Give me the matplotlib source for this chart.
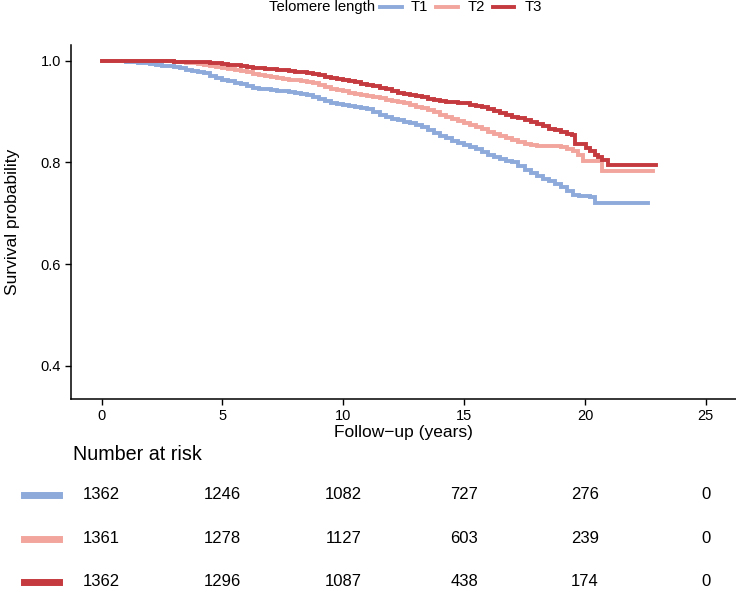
import matplotlib
matplotlib.use("Agg")
import matplotlib.pyplot as plt
from matplotlib.lines import Line2D

plt.rcParams['font.family'] = ['Liberation Sans', 'DejaVu Sans']

# Kaplan-Meier curves (time in years, survival)
t1_time = [0, 0.5, 0.75, 1.0, 1.25, 1.5, 1.75, 2.0, 2.25, 2.5, 2.75, 3.0, 3.25, 3.5,
           3.75, 4.0, 4.25, 4.5, 4.75, 5.0, 5.25, 5.5, 5.75, 6.0, 6.25, 6.5, 6.75, 7.0,
           7.25, 7.5, 7.75, 8.0, 8.25, 8.5, 8.75, 9.0, 9.25, 9.5, 9.75, 10.0, 10.25,
           10.5, 10.75, 11.0, 11.25, 11.5, 11.75, 12.0, 12.25, 12.5, 12.75, 13.0, 13.25,
           13.5, 13.75, 14.0, 14.25, 14.5, 14.75, 15.0, 15.25, 15.5, 15.75, 16.0, 16.25,
           16.5, 16.75, 17.0, 17.25, 17.5, 17.75, 18.0, 18.25, 18.5, 18.75, 19.0, 19.25,
           19.5, 19.75, 20.0, 20.2, 20.4, 22.6]
t1_surv = [1.0, 1.0, 0.999, 0.998, 0.997, 0.996, 0.995, 0.993, 0.992, 0.990, 0.989,
           0.987, 0.985, 0.982, 0.980, 0.978, 0.975, 0.971, 0.967, 0.963, 0.960, 0.957,
           0.954, 0.950, 0.947, 0.945, 0.944, 0.942, 0.941, 0.940, 0.939, 0.937, 0.935,
           0.933, 0.929, 0.925, 0.921, 0.917, 0.915, 0.913, 0.911, 0.909, 0.907, 0.905,
           0.900, 0.894, 0.890, 0.886, 0.883, 0.880, 0.877, 0.874, 0.869, 0.863, 0.858,
           0.853, 0.848, 0.843, 0.839, 0.835, 0.831, 0.827, 0.820, 0.814, 0.810, 0.806,
           0.803, 0.800, 0.793, 0.786, 0.780, 0.773, 0.768, 0.763, 0.758, 0.752, 0.744,
           0.736, 0.735, 0.734, 0.733, 0.720, 0.720]

t2_time = [0, 1.5, 2.0, 2.5, 3.0, 3.25, 3.5, 3.75, 4.0, 4.25, 4.5, 4.75, 5.0, 5.25,
           5.5, 5.75, 6.0, 6.25, 6.5, 6.75, 7.0, 7.25, 7.5, 7.75, 8.0, 8.25, 8.5, 8.75,
           9.0, 9.25, 9.5, 9.75, 10.0, 10.25, 10.5, 10.75, 11.0, 11.25, 11.5, 11.75,
           12.0, 12.25, 12.5, 12.75, 13.0, 13.25, 13.5, 13.75, 14.0, 14.25, 14.5, 14.75,
           15.0, 15.25, 15.5, 15.75, 16.0, 16.25, 16.5, 16.75, 17.0, 17.25, 17.5, 17.75,
           18.0, 18.5, 19.0, 19.25, 19.5, 19.7, 19.9, 20.7, 22.8]
t2_surv = [1.0, 1.0, 0.9995, 0.999, 0.998, 0.997, 0.996, 0.995, 0.994, 0.992, 0.990,
           0.988, 0.986, 0.984, 0.982, 0.980, 0.977, 0.974, 0.972, 0.970, 0.968, 0.966,
           0.965, 0.963, 0.962, 0.960, 0.958, 0.956, 0.953, 0.949, 0.945, 0.943, 0.940,
           0.937, 0.934, 0.932, 0.930, 0.928, 0.926, 0.923, 0.921, 0.919, 0.917, 0.914,
           0.910, 0.907, 0.903, 0.899, 0.894, 0.890, 0.886, 0.882, 0.878, 0.874, 0.870,
           0.865, 0.860, 0.856, 0.852, 0.848, 0.844, 0.840, 0.837, 0.835, 0.833, 0.832,
           0.830, 0.827, 0.822, 0.815, 0.802, 0.784, 0.784]

t3_time = [0, 2.0, 2.5, 3.0, 3.5, 4.0, 4.5, 5.0, 5.25, 5.5, 5.75, 6.0, 6.25, 6.5, 6.75,
           7.0, 7.25, 7.5, 7.75, 8.0, 8.25, 8.5, 8.75, 9.0, 9.25, 9.5, 9.75, 10.0, 10.25,
           10.5, 10.75, 11.0, 11.25, 11.5, 11.75, 12.0, 12.25, 12.5, 12.75, 13.0, 13.25,
           13.5, 13.75, 14.0, 14.25, 14.5, 14.75, 15.0, 15.25, 15.5, 15.75, 16.0, 16.25,
           16.5, 16.75, 17.0, 17.25, 17.5, 17.75, 18.0, 18.25, 18.5, 18.75, 19.0, 19.25,
           19.45, 19.6, 19.85, 20.05, 20.2, 20.4, 20.55, 20.7, 20.95, 22.95]
t3_surv = [1.0, 1.0, 0.999, 0.998, 0.9975, 0.997, 0.995, 0.993, 0.992, 0.991, 0.990,
           0.988, 0.986, 0.985, 0.984, 0.983, 0.982, 0.981, 0.980, 0.978, 0.977, 0.975,
           0.974, 0.972, 0.969, 0.966, 0.964, 0.962, 0.960, 0.958, 0.955, 0.952, 0.950,
           0.947, 0.944, 0.940, 0.937, 0.934, 0.932, 0.930, 0.928, 0.925, 0.922, 0.920,
           0.919, 0.918, 0.917, 0.916, 0.914, 0.912, 0.909, 0.905, 0.902, 0.898, 0.894,
           0.890, 0.887, 0.883, 0.880, 0.876, 0.871, 0.866, 0.863, 0.860, 0.857, 0.854,
           0.837, 0.836, 0.828, 0.822, 0.815, 0.810, 0.805, 0.795, 0.795]

groups = ['T1', 'T2', 'T3']
colors = ['#8DAADB', '#F2A59D', '#C43A3E']

risk_times = [0, 5, 10, 15, 20, 25]
risk_t1 = [1362, 1246, 1082, 727, 276, 0]
risk_t2 = [1361, 1278, 1127, 603, 239, 0]
risk_t3 = [1362, 1296, 1087, 438, 174, 0]

W, H = 736, 591
fig = plt.figure(figsize=(W / 100, H / 100), dpi=100)

# main survival panel
ax = fig.add_axes([71.4 / W, 1 - 399 / H, 1 - 71.4 / W, (399 - 45) / H])
curves = [(t1_time, t1_surv), (t2_time, t2_surv), (t3_time, t3_surv)]
for (tt, ss), c in zip(curves, colors):
    ax.plot(tt, ss, drawstyle='steps-post', color=c, lw=2.8, solid_joinstyle='miter')

ax.set_xlim(-1.25, 26.25)
ax.set_ylim(0.335, 1.031)
ax.set_xticks(risk_times)
ax.set_yticks([0.4, 0.6, 0.8, 1.0])
ax.set_yticklabels(['0.4', '0.6', '0.8', '1.0'])
for side in ['top', 'right']:
    ax.spines[side].set_visible(False)
for side in ['left', 'bottom']:
    ax.spines[side].set_linewidth(1.1)
ax.tick_params(direction='out', length=4, width=1.0, labelsize=10.5, colors='black')
ax.set_xlabel('Follow\u2212up (years)', fontsize=12.5, labelpad=1)
ax.set_ylabel('Survival probability', fontsize=12.5, labelpad=15)

# legend on top
fig.text(375 / W, 1 - 7 / H, 'Telomere length', ha='right', va='center', fontsize=10.7)
leg_x = [(380, 402, 411), (436, 458, 468), (493, 514, 525)]
for (x0, x1, xt), g, c in zip(leg_x, groups, colors):
    fig.add_artist(Line2D([x0 / W, x1 / W], [1 - 7 / H, 1 - 7 / H], color=c, lw=2.8,
                          transform=fig.transFigure))
    fig.text(xt / W, 1 - 7 / H, g, ha='left', va='center', fontsize=10.7)

# number at risk table (y in image pixels)
tab = fig.add_axes([71.4 / W, 0, 1 - 71.4 / W, 150 / H])
tab.set_xlim(-1.25, 26.25)
tab.set_ylim(591, 441)
tab.axis('off')
fig.text(73 / W, 1 - 455 / H, 'Number at risk', ha='left', va='center', fontsize=14.2)
row_y = [495, 539, 582]
for rows, y, c in zip([risk_t1, risk_t2, risk_t3], row_y, colors):
    fig.add_artist(Line2D([24 / W, 59 / W], [1 - y / H, 1 - y / H], color=c, lw=5,
                          transform=fig.transFigure))
    for t, n in zip(risk_times, rows):
        tab.text(t, y, str(n), ha='center', va='center', fontsize=12)

fig.savefig('out.png', dpi=100)
